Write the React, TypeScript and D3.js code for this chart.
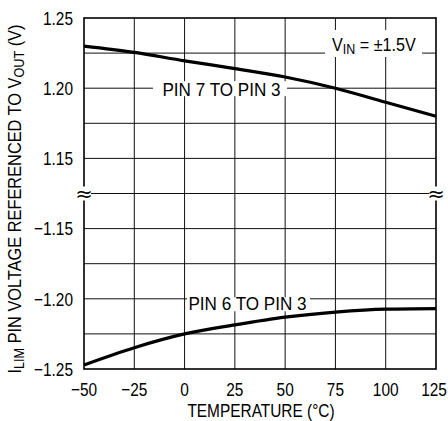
import React from 'react';
import * as d3 from 'd3';

// temperature (°C) and the two ILIM pin voltages
const temps = [-50, -25, 0, 25, 50, 75, 100, 125];
const pin7ToPin3 = [1.23, 1.2255, 1.2195, 1.214, 1.208, 1.2, 1.19, 1.18];
const pin6ToPin3 = [-1.2471, -1.2348, -1.225, -1.2186, -1.2131, -1.2095, -1.2074, -1.207];

const xTicks = [-50, -25, 0, 25, 50, 75, 100, 125];
const topGrid = [1.15, 1.175, 1.2, 1.225];
const botGrid = [-1.225, -1.2, -1.175, -1.15];
const topLabels = [1.25, 1.2, 1.15];
const botLabels = [-1.15, -1.2, -1.25];

const FONT = '"Liberation Sans", Arial, sans-serif';
const FS = 18.8;

const fmt = (v: number) => (v < 0 ? '\u2212' : '') + Math.abs(v).toFixed(2);
const fmtX = (v: number) => (v < 0 ? '\u2212' : '') + Math.abs(v);

// condensed text: the reference uses a narrow face, so squeeze horizontally
const CText = ({
  x,
  y,
  sx = 0.82,
  anchor = 'start',
  rotate = 0,
  children,
}: {
  x: number;
  y: number;
  sx?: number;
  anchor?: string;
  rotate?: number;
  children: React.ReactNode;
}) => (
  <text
    transform={`translate(${x},${y}) rotate(${rotate}) scale(${sx},1)`}
    fontSize={FS}
    textAnchor={anchor}
  >
    {children}
  </text>
);

export default function App() {
  const width = 448;
  const height = 421;
  const left = 84;
  const right = 436;
  const top = 18;
  const bottom = 369;
  const mid = (top + bottom) / 2;

  const x = d3.scaleLinear().domain([-50, 125]).range([left, right]);
  const yTop = d3.scaleLinear().domain([1.125, 1.25]).range([mid, top]);
  const yBot = d3.scaleLinear().domain([-1.25, -1.125]).range([bottom, mid]);

  const lineTop = d3
    .line<number>()
    .x((_, i) => x(temps[i]))
    .y((d) => yTop(d))
    .curve(d3.curveMonotoneX);
  const lineBot = d3
    .line<number>()
    .x((_, i) => x(temps[i]))
    .y((d) => yBot(d))
    .curve(d3.curveMonotoneX);

  const grid = '#111';

  return (
    <svg
      width={width}
      height={height}
      style={{ position: 'absolute', left: 0, top: 0, background: '#fff' }}
      fontFamily={FONT}
    >
      {/* vertical grid */}
      {xTicks.slice(1, -1).map((t) => (
        <line key={'v' + t} x1={x(t)} x2={x(t)} y1={top} y2={bottom} stroke={grid} strokeWidth={1} />
      ))}
      {/* horizontal grid */}
      {topGrid.map((v) => (
        <line key={'ht' + v} x1={left} x2={right} y1={yTop(v)} y2={yTop(v)} stroke={grid} strokeWidth={1} />
      ))}
      {botGrid.map((v) => (
        <line key={'hb' + v} x1={left} x2={right} y1={yBot(v)} y2={yBot(v)} stroke={grid} strokeWidth={1} />
      ))}
      <line x1={left} x2={right} y1={mid} y2={mid} stroke={grid} strokeWidth={1} />

      {/* label masks */}
      <rect x={153} y={yTop(1.2) - 7} width={287 - 153} height={15} fill="#fff" />
      <rect x={325} y={30} width={422 - 325} height={27} fill="#fff" />
      <rect x={187} y={yBot(-1.2) - 1.5} width={310 - 187} height={14} fill="#fff" />

      {/* curves */}
      <path d={lineTop(pin7ToPin3) ?? ''} fill="none" stroke="#000" strokeWidth={3.2} />
      <path d={lineBot(pin6ToPin3) ?? ''} fill="none" stroke="#000" strokeWidth={3.2} />

      {/* frame */}
      <rect x={left} y={top} width={right - left} height={bottom - top} fill="none" stroke="#000" strokeWidth={1.6} />

      {/* break marks */}
      {[left, right].map((bx) => (
        <g key={'brk' + bx}>
          <rect x={bx - 7} y={mid - 7} width={14} height={14} fill="#fff" />
          <text x={bx} y={mid + 7.5} fontSize={21} textAnchor="middle" fontFamily="DejaVu Sans, sans-serif">
            {'\u2248'}
          </text>
        </g>
      ))}

      {/* annotations */}
      <CText x={221.5} y={yTop(1.2) + 7.5} sx={0.91} anchor="middle">
        PIN 7 TO PIN 3
      </CText>
      <CText x={332} y={51} sx={0.86}>
        V<tspan fontSize={14.5} dy={3}>IN</tspan>
        <tspan dy={-3}> = ±1.5V</tspan>
      </CText>
      <CText x={247.5} y={yBot(-1.2) + 11} sx={0.91} anchor="middle">
        PIN 6 TO PIN 3
      </CText>

      {/* y tick labels */}
      {topLabels.map((v) => (
        <CText key={'tl' + v} x={left - 11} y={yTop(v) + 6.7} anchor="end">
          {fmt(v)}
        </CText>
      ))}
      {botLabels.map((v) => (
        <CText key={'bl' + v} x={left - 11} y={yBot(v) + 6.7} anchor="end">
          {fmt(v)}
        </CText>
      ))}

      {/* x tick labels */}
      {xTicks.map((t) => (
        <CText key={'xl' + t} x={t === 125 ? x(t) - 2 : x(t)} y={396} anchor="middle">
          {fmtX(t)}
        </CText>
      ))}

      {/* axis titles */}
      <CText x={261} y={417} anchor="middle">
        TEMPERATURE (°C)
      </CText>
      <CText x={21} y={199} sx={0.87} rotate={-90} anchor="middle">
        I<tspan fontSize={14.5} dy={3}>LIM</tspan>
        <tspan dy={-3}> PIN VOLTAGE REFERENCED TO V</tspan>
        <tspan fontSize={14.5} dy={3}>OUT</tspan>
        <tspan dy={-3}> (V)</tspan>
      </CText>
    </svg>
  );
}
